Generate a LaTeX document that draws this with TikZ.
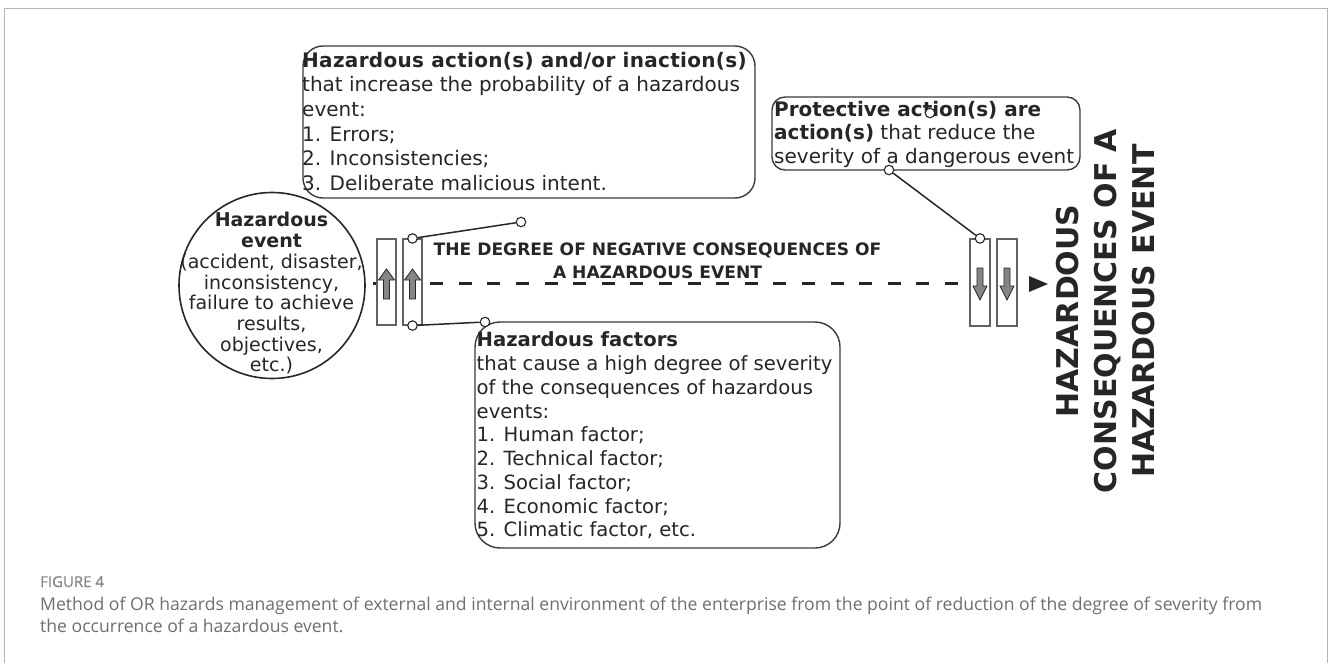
\documentclass[tikz,border=0pt]{standalone}
\usepackage{fontspec}
\setmainfont{DejaVu Sans}
\newfontfamily\capfont{Open Sans}
\definecolor{ink}{HTML}{262626}
\definecolor{boxline}{HTML}{3A3A3A}
\definecolor{arrfill}{HTML}{858585}
\definecolor{framegray}{HTML}{B4B4B4}
\definecolor{capgray}{HTML}{6E6E6E}
\tikzset{
  rbox/.style={draw=boxline, line width=1.4pt, fill=white, inner sep=0pt},
  btext/.style={anchor=north west, inner sep=0pt, align=left, text=ink},
  pin/.style={circle, draw=ink, fill=white, line width=1.1pt, minimum size=9.5pt, inner sep=0pt},
  wire/.style={draw=ink, line width=1.5pt},
  bar/.style={draw=boxline!80, line width=1.1pt, fill=white, minimum width=19pt, minimum height=86pt, inner sep=0pt},
  dashline/.style={draw=ink, line width=3pt, dash pattern=on 13pt off 15.6pt},
  uparrow/.pic={\filldraw[fill=arrfill, draw=ink, line width=0.8pt]
     (-3,15) -- (3,15) -- (3,-4) -- (8,-4) -- (0,-15) -- (-8,-4) -- (-3,-4) -- cycle;},
  downarrow/.pic={\filldraw[fill=arrfill, draw=ink, line width=0.8pt]
     (-3,-16) -- (3,-16) -- (3,2) -- (7,2) -- (0,16) -- (-7,2) -- (-3,2) -- cycle;}
}
\begin{document}
\begin{tikzpicture}[x=1pt,y=-1pt]
\useasboundingbox (0,0) rectangle (1328,663);
% frame
\draw[framegray, line width=1.5pt] (4.3,663) -- (4.3,8.7) -- (1327.3,8.7) -- (1327.3,663);

% boxes
\node[rbox, rounded corners=20pt, minimum width=452pt, minimum height=152pt] (boxA) at (529,122) {};
\node[rbox, rounded corners=13pt, minimum width=308pt, minimum height=73pt] (boxP) at (926,133.5) {};
\node[rbox, rounded corners=25pt, minimum width=365pt, minimum height=226pt] (boxF) at (657.5,435) {};
\node[circle, draw=ink, line width=1.6pt, minimum size=186pt, inner sep=0pt] (ev) at (272,285.5) {};

% texts in boxes
\node[btext, font=\fontsize{20}{24.7}\selectfont] (tA) at (302,47) {\rule{0pt}{20pt}\textbf{\addfontfeature{LetterSpace=1.5}Hazardous action(s) and/or inaction(s)}\\that increase the probability of a hazardous\\event:\\1. Errors;\\2. Inconsistencies;\\3. Deliberate malicious intent.};
\node[btext, font=\fontsize{20}{23.7}\selectfont] (tP) at (774,96) {\rule{0pt}{20pt}\textbf{Protective action(s) are}\\\textbf{action(s)} that reduce the\\severity of a dangerous event};
\node[btext, font=\fontsize{19.6}{23.75}\selectfont] (tF) at (476.5,327.1) {\rule{0pt}{19.6pt}\textbf{Hazardous factors}\\that cause a high degree of severity\\of the consequences of hazardous\\events:\\1. Human factor;\\2. Technical factor;\\3. Social factor;\\4. Economic factor;\\5. Climatic factor, etc.};
\node[anchor=north, inner sep=0pt, align=center, text=ink, font=\fontsize{19}{20.7}\selectfont] (tE) at (271.5,207.7) {\rule{0pt}{19pt}\textbf{Hazardous}\\\textbf{event}\\(accident, disaster,\\inconsistency,\\failure to achieve\\results,\\objectives,\\etc.)};

% dashed main line
\coordinate (dstart) at (373,283);
\coordinate (tipbase) at (1029,283);
\draw[dashline] (dstart) -- (tipbase);
\fill[ink] (1029,276) -- (1048,284) -- (1029,292) -- cycle;

% title
\node[anchor=north, inner sep=0pt, align=center, text=ink, font=\fontsize{17.1}{22.6}\selectfont\bfseries] (title) at (657.5,238.6) {\rule{0pt}{17.1pt}THE DEGREE OF NEGATIVE CONSEQUENCES OF\\A HAZARDOUS EVENT};

% bars
\node[bar] (r1) at (386.5,282) {};
\node[bar] (r2) at (412.5,282) {};
\node[bar, minimum width=20pt, minimum height=87pt] (r3) at (980,282.5) {};
\node[bar, minimum width=20pt, minimum height=87pt] (r4) at (1007,282.5) {};
\pic at (386.5,284) {uparrow};
\pic at (412.5,284) {uparrow};
\pic at (980,284) {downarrow};
\pic at (1007,284) {downarrow};

% pins
\node[pin] (p1) at (r2.north) {};
\node[pin] (p2) at (521,222) {};
\node[pin] (p3) at (r2.south) {};
\node[pin] (p4) at (485,322) {};
\node[pin] (p5) at (889,170) {};
\node[pin] (p6) at (r3.north) {};
\node[pin] (p7) at (930,113) {};
\draw[wire] (p1) -- (p2);
\draw[wire] (p3) -- (p4);
\draw[wire] (p5) -- (p6);

% vertical heading
\node[rotate=90, align=center, inner sep=0pt, text=ink, font=\bfseries\fontsize{30}{38}\selectfont] (vh) at (1106,311) {HAZARDOUS\\CONSEQUENCES OF A\\HAZARDOUS EVENT};

% caption
\node[anchor=base west, inner sep=0pt, text=capgray!85, font=\capfont\addfontfeature{FakeBold=0.6}\fontsize{15}{16}\selectfont] (fig) at (40,587) {FIGURE 4};
\node[anchor=base west, inner sep=0pt, text=capgray, font=\capfont\fontsize{17.6}{21.5}\selectfont, align=left] (cap) at (40,632) {Method of OR hazards management of external and internal environment of the enterprise from the point of reduction of the degree of severity from\\the occurrence of a hazardous event.};
\end{tikzpicture}
\end{document}
